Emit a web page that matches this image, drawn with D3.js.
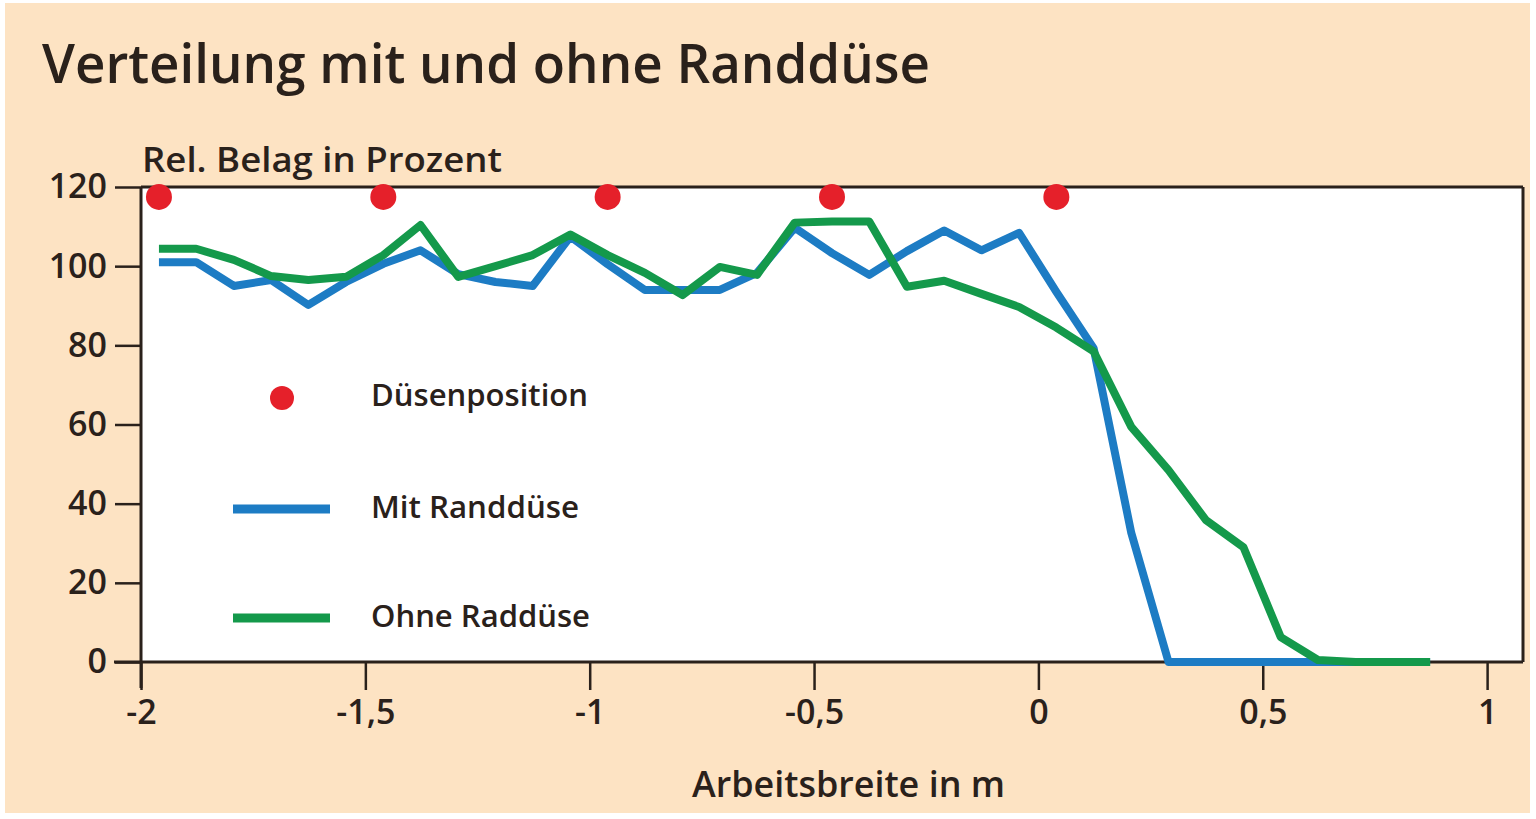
<!DOCTYPE html>
<html>
<head>
<meta charset="utf-8">
<script src="https://cdn.jsdelivr.net/npm/d3@7"></script>
<style>
  html, body { margin: 0; padding: 0; background: #ffffff; }
  svg { display: block; }
  text { font-family: "Open Sans", "Noto Sans", sans-serif; fill: #2a211b; }
</style>
</head>
<body>
<svg id="chart" width="1536" height="819"></svg>
<script>
// Arbeitsbreite (m) of each measurement point
const positions = [-1.96, -1.877, -1.793, -1.71, -1.627, -1.543, -1.46, -1.377, -1.293, -1.21,
  -1.127, -1.043, -0.96, -0.877, -0.793, -0.71, -0.627, -0.543, -0.46, -0.377,
  -0.293, -0.21, -0.127, -0.043, 0.04, 0.123, 0.207, 0.29, 0.373, 0.457,
  0.54, 0.623, 0.707, 0.79, 0.873];

// Relative Belag in Prozent
const mitRandduese = [101, 101, 95, 96.5, 90.2, 96, 100.6, 104, 98, 96,
  95, 107.5, 100.5, 94, 94, 94, 98.3, 109.7, 103.3, 97.8,
  103.8, 109, 104, 108.4, 93.5, 79.3, 32.6, 0, 0, 0,
  0, 0, 0, 0, 0];

const ohneRandduese = [104.4, 104.4, 101.6, 97.5, 96.5, 97.3, 102.8, 110.4, 97.3, 100,
  102.8, 108, 102.8, 98.3, 92.7, 99.8, 97.8, 111, 111.3, 111.3,
  94.8, 96.3, 93, 89.7, 84.5, 78.5, 59.4, 48.5, 35.9, 29,
  6.3, 0.5, 0, 0, 0];

// Düsenpositionen
const nozzleX = [-1.96, -1.46, -0.96, -0.46, 0.04];
const nozzleY = 117.5;

const xTicks = [-2, -1.5, -1, -0.5, 0, 0.5, 1];
const xTickLabels = ["-2", "-1,5", "-1", "-0,5", "0", "0,5", "1"];
const yTicks = [0, 20, 40, 60, 80, 100, 120];

const COLORS = { bg: "#fde3c3", blue: "#1d7cc4", green: "#14994b", red: "#e5202a", ink: "#2a211b" };

const svg = d3.select("#chart");

// Peach card
svg.append("rect").attr("x", 5).attr("y", 3).attr("width", 1525).attr("height", 810)
  .attr("fill", COLORS.bg);

const x = d3.scaleLinear().domain([-2, 1.08]).range([141, 1523]);
const y = d3.scaleLinear().domain([0, 120]).range([662, 187]);

// Plot area
svg.append("rect")
  .attr("x", x(-2)).attr("y", y(120))
  .attr("width", x(1.08) - x(-2)).attr("height", y(0) - y(120))
  .attr("fill", "#ffffff");

// Title and axis titles
svg.append("text").attr("x", 42).attr("y", 83)
  .attr("font-size", 55).attr("font-weight", 600)
  .attr("textLength", 888).attr("lengthAdjust", "spacingAndGlyphs")
  .text("Verteilung mit und ohne Randdüse");

svg.append("text").attr("x", 142).attr("y", 172)
  .attr("font-size", 35).attr("font-weight", 600)
  .attr("textLength", 360).attr("lengthAdjust", "spacingAndGlyphs")
  .text("Rel. Belag in Prozent");

svg.append("text").attr("x", 692).attr("y", 797)
  .attr("font-size", 36).attr("font-weight", 600)
  .attr("textLength", 313).attr("lengthAdjust", "spacingAndGlyphs")
  .text("Arbeitsbreite in m");

// Axes
const yAxis = d3.axisLeft(y).tickValues(yTicks).tickSize(26).tickPadding(8).tickSizeOuter(0);
const gy = svg.append("g").attr("transform", `translate(${x(-2)},0)`).call(yAxis);

const xAxis = d3.axisBottom(x).tickValues(xTicks)
  .tickFormat((d, i) => xTickLabels[i]).tickSize(28).tickPadding(8).tickSizeOuter(0);
const gx = svg.append("g").attr("transform", `translate(0,${y(0)})`).call(xAxis);

[gx, gy].forEach(g => {
  g.select(".domain").remove();
  g.selectAll(".tick line").attr("stroke", COLORS.ink).attr("stroke-width", 2.5);
  g.selectAll(".tick text").attr("fill", COLORS.ink)
    .attr("font-size", 34).attr("font-weight", 600)
    .style("font-family", "'Open Sans', sans-serif");
});
gx.selectAll(".tick text").attr("dy", "0.75em");

// Plot frame: axis lines plus top and right border
const frame = svg.append("g").attr("stroke", COLORS.ink).attr("stroke-width", 3).attr("fill", "none");
frame.append("line").attr("x1", 114).attr("x2", x(1.08)).attr("y1", y(0)).attr("y2", y(0));
frame.append("line").attr("x1", x(-2)).attr("x2", x(-2)).attr("y1", y(120)).attr("y2", y(0) + 26);
frame.append("line").attr("x1", x(-2)).attr("x2", x(1.08)).attr("y1", y(120)).attr("y2", y(120));
frame.append("line").attr("x1", x(1.08)).attr("x2", x(1.08)).attr("y1", y(120)).attr("y2", y(0));

// Series
const line = d3.line().x((d, i) => x(positions[i])).y(d => y(d));

svg.append("path").datum(mitRandduese)
  .attr("d", line).attr("fill", "none")
  .attr("stroke", COLORS.blue).attr("stroke-width", 8)
  .attr("stroke-linejoin", "round").attr("stroke-linecap", "butt");

svg.append("path").datum(ohneRandduese)
  .attr("d", line).attr("fill", "none")
  .attr("stroke", COLORS.green).attr("stroke-width", 8)
  .attr("stroke-linejoin", "round").attr("stroke-linecap", "butt");

// Nozzle markers
svg.append("g").selectAll("circle").data(nozzleX).join("circle")
  .attr("cx", d => x(d)).attr("cy", y(nozzleY)).attr("r", 13)
  .attr("fill", COLORS.red);

// Legend
const legend = svg.append("g");
legend.append("circle").attr("cx", 282).attr("cy", 398).attr("r", 12).attr("fill", COLORS.red);
legend.append("line").attr("x1", 233).attr("x2", 330).attr("y1", 509).attr("y2", 509)
  .attr("stroke", COLORS.blue).attr("stroke-width", 9);
legend.append("line").attr("x1", 233).attr("x2", 330).attr("y1", 618).attr("y2", 618)
  .attr("stroke", COLORS.green).attr("stroke-width", 9);

const legendItems = [
  { label: "Düsenposition", y: 406, w: 217 },
  { label: "Mit Randdüse", y: 518, w: 208 },
  { label: "Ohne Raddüse", y: 627, w: 219 }
];
legend.selectAll("text.lbl").data(legendItems).join("text")
  .attr("class", "lbl")
  .attr("x", 371).attr("y", d => d.y)
  .attr("font-size", 31).attr("font-weight", 600)
  .attr("textLength", d => d.w).attr("lengthAdjust", "spacingAndGlyphs")
  .text(d => d.label);
</script>
</body>
</html>
